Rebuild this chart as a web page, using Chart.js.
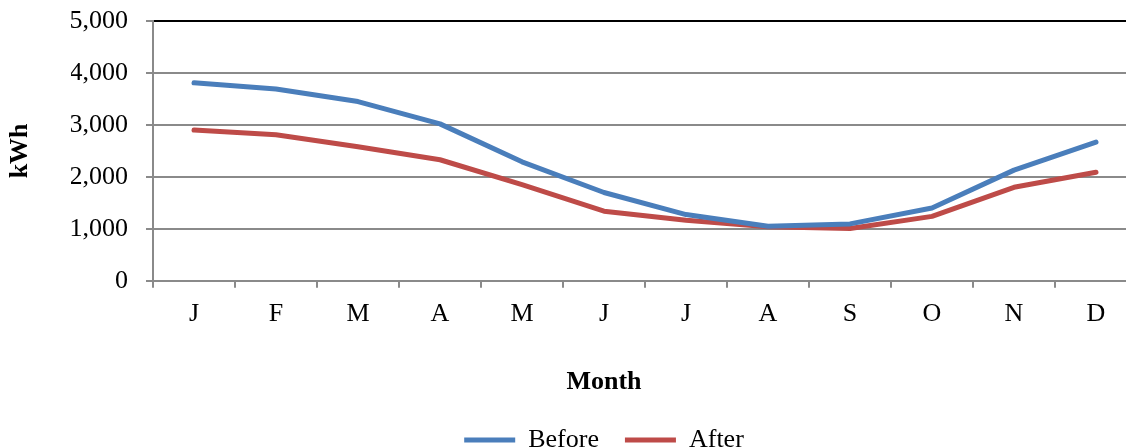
<!DOCTYPE html>
<html>
<head>
<meta charset="utf-8">
<title>Monthly energy use</title>
<script src="https://cdn.jsdelivr.net/npm/chart.js@4/dist/chart.umd.min.js"></script>
<style>
  html, body { margin: 0; padding: 0; background: #ffffff; overflow: hidden; }
  #wrap { width: 1206px; height: 463px; }
</style>
</head>
<body>
<div id="wrap"><canvas id="chart" width="1206" height="463"></canvas></div>
<script>
// Monthly consumption, kWh
const months = ['J', 'F', 'M', 'A', 'M', 'J', 'J', 'A', 'S', 'O', 'N', 'D'];
const beforeKWh = [3810, 3690, 3450, 3020, 2290, 1700, 1275, 1050, 1095, 1400, 2130, 2670];
const afterKWh  = [2900, 2810, 2580, 2330, 1850, 1340, 1165, 1040, 1005, 1240, 1800, 2090];
const seriesNames = ['Before', 'After'];
const yMin = 0, yMax = 5000, yStep = 1000;
const yTitle = 'kWh';
const xTitle = 'Month';

const serif = "'Liberation Serif', 'Times New Roman', Times, serif";
const gridGray = '#8a8a8a';

new Chart(document.getElementById('chart'), {
  type: 'line',
  data: {
    labels: months,
    datasets: [
      {
        label: seriesNames[0],
        data: beforeKWh,
        borderColor: '#4a7ebb',
        backgroundColor: '#4a7ebb',
        borderWidth: 5,
        borderCapStyle: 'round',
        borderJoinStyle: 'round',
        pointRadius: 0,
        tension: 0
      },
      {
        label: seriesNames[1],
        data: afterKWh,
        borderColor: '#be4b48',
        backgroundColor: '#be4b48',
        borderWidth: 5,
        borderCapStyle: 'round',
        borderJoinStyle: 'round',
        pointRadius: 0,
        tension: 0
      }
    ]
  },
  options: {
    responsive: false,
    animation: false,
    events: [],
    // left padding keeps the bottom title and legend centred under the plot as laid out
    layout: { padding: { left: 71, right: 69, top: 21, bottom: 0 } },
    scales: {
      x: {
        offset: true,
        afterFit: (scale) => { scale.height = 60; },
        grid: {
          offset: true,
          drawOnChartArea: false,
          drawTicks: true,
          tickLength: 7,
          color: gridGray,
          lineWidth: 2
        },
        border: { display: true, color: gridGray, width: 2 },
        ticks: {
          color: '#000000',
          padding: 11,
          maxRotation: 0,
          font: { family: serif, size: 26 }
        }
      },
      y: {
        min: yMin,
        max: yMax,
        afterFit: (scale) => {
          scale.width = 82;
          // the label gap should not push the plot down
          scale.paddingTop = 0;
          scale.paddingBottom = 0;
        },
        ticks: {
          stepSize: yStep,
          color: '#000000',
          padding: 18,
          font: { family: serif, size: 26 }
        },
        grid: {
          color: (c) => (c.tick && c.tick.value === yMax ? '#000000' : gridGray),
          tickColor: gridGray,
          lineWidth: 2,
          tickLength: 7
        },
        border: { display: true, color: gridGray, width: 2 },
        title: {
          display: true,
          text: yTitle,
          color: '#000000',
          padding: { top: -66, bottom: 0 },
          font: { family: serif, size: 26, weight: 'bold' }
        }
      }
    },
    plugins: {
      tooltip: { enabled: false },
      title: {
        display: true,
        position: 'bottom',
        weight: 500,
        text: xTitle,
        color: '#000000',
        padding: { top: 26, bottom: 3 },
        font: { family: serif, size: 26, weight: 'bold' }
      },
      legend: {
        display: true,
        position: 'bottom',
        labels: {
          usePointStyle: true,
          pointStyle: 'line',
          pointStyleWidth: 51,
          padding: 26,
          color: '#000000',
          font: { family: serif, size: 26 }
        }
      }
    }
  }
});
</script>
</body>
</html>
